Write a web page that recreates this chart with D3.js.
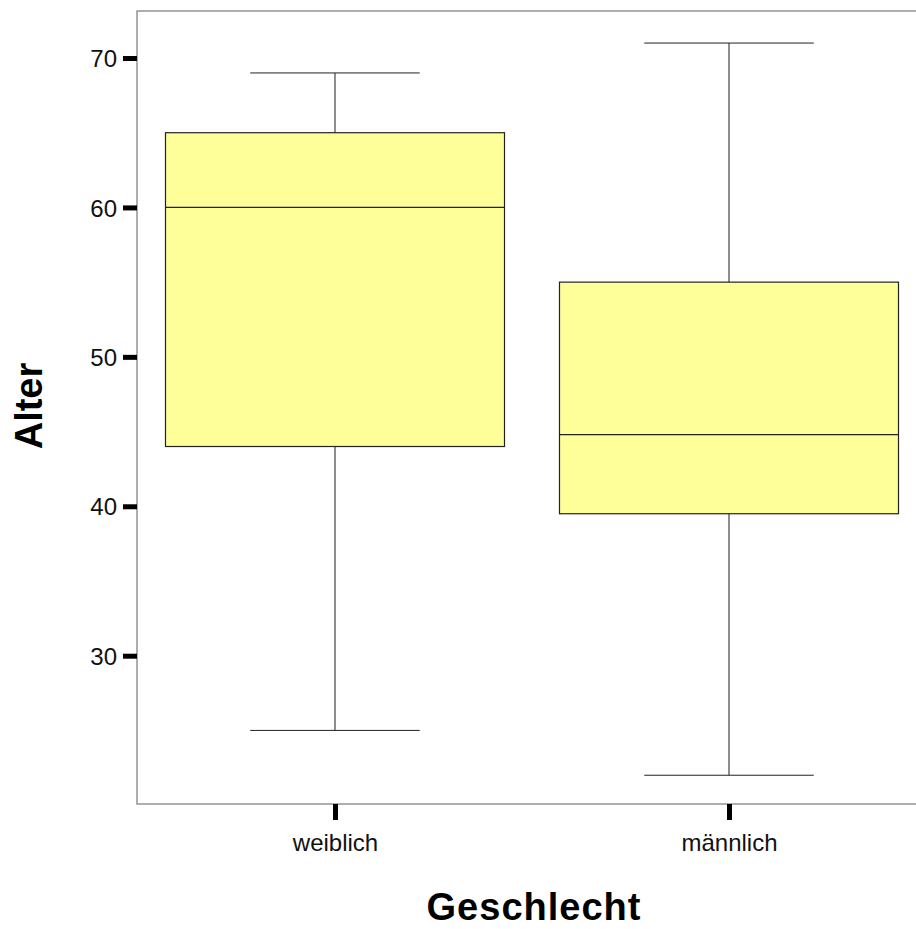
<!DOCTYPE html>
<html><head><meta charset="utf-8">
<script src="https://cdn.jsdelivr.net/npm/d3@7"></script>
<style>body{margin:0;background:#fff;}svg{display:block;}</style>
</head><body>
<script>
const categories = ["weiblich", "männlich"];
const whiskerLow = [25, 22];
const q1 = [44, 39.5];
const median = [60, 44.8];
const q3 = [65, 55];
const whiskerHigh = [69, 71];
const yTicks = [30, 40, 50, 60, 70];
const xTitle = "Geschlecht";
const yTitle = "Alter";

const W = 916, H = 929;
const svg = d3.select("body").append("svg").attr("width", W).attr("height", H);
const frame = {left: 137, top: 11, right: 918, bottom: 804};

const y = d3.scaleLinear().domain([30, 70]).range([655.7, 58]);
const x = d3.scalePoint().domain(categories).range([138, 926]).padding(0.5);
const boxW = 339;

// frame
svg.append("rect").attr("x", frame.left).attr("y", frame.top)
  .attr("width", frame.right - frame.left).attr("height", frame.bottom - frame.top)
  .attr("fill", "none").attr("stroke", "#8c8c8c").attr("stroke-width", 1.4);

const data = categories.map((c, i) => ({c, lo: whiskerLow[i], q1: q1[i], med: median[i], q3: q3[i], hi: whiskerHigh[i]}));
const g = svg.append("g").selectAll("g").data(data).join("g");
// whiskers
g.append("line").attr("x1", d => x(d.c)).attr("x2", d => x(d.c))
  .attr("y1", d => y(d.hi)).attr("y2", d => y(d.q3)).attr("stroke", "#444").attr("stroke-width", 1.2);
g.append("line").attr("x1", d => x(d.c)).attr("x2", d => x(d.c))
  .attr("y1", d => y(d.q1)).attr("y2", d => y(d.lo)).attr("stroke", "#444").attr("stroke-width", 1.2);
g.append("line").attr("x1", d => x(d.c) - boxW / 4).attr("x2", d => x(d.c) + boxW / 4)
  .attr("y1", d => y(d.hi)).attr("y2", d => y(d.hi)).attr("stroke", "#222").attr("stroke-width", 1);
g.append("line").attr("x1", d => x(d.c) - boxW / 4).attr("x2", d => x(d.c) + boxW / 4)
  .attr("y1", d => y(d.lo)).attr("y2", d => y(d.lo)).attr("stroke", "#222").attr("stroke-width", 1);
// boxes
g.append("rect").attr("x", d => x(d.c) - boxW / 2).attr("width", boxW)
  .attr("y", d => y(d.q3)).attr("height", d => y(d.q1) - y(d.q3))
  .attr("fill", "#ffff99").attr("stroke", "#222").attr("stroke-width", 1.2);
g.append("line").attr("x1", d => x(d.c) - boxW / 2).attr("x2", d => x(d.c) + boxW / 2)
  .attr("y1", d => y(d.med)).attr("y2", d => y(d.med)).attr("stroke", "#222").attr("stroke-width", 1.2);

// y axis
const yAxis = d3.axisLeft(y).tickValues(yTicks).tickSize(14).tickPadding(6).tickFormat(d3.format("d"));
const ya = svg.append("g").attr("transform", `translate(${frame.left},0)`).call(yAxis);
ya.select(".domain").remove();
ya.selectAll(".tick line").attr("stroke", "#000").attr("stroke-width", 5);
ya.selectAll(".tick text").attr("font-family", "Liberation Sans, Arial, sans-serif")
  .attr("font-size", 24).attr("fill", "#111").attr("dy", "0.36em");

// x axis
const xAxis = d3.axisBottom(x).tickSize(16).tickPadding(14);
const xa = svg.append("g").attr("transform", `translate(0,${frame.bottom})`).call(xAxis);
xa.select(".domain").remove();
xa.selectAll(".tick line").attr("stroke", "#000").attr("stroke-width", 5);
xa.selectAll(".tick text").attr("font-family", "Liberation Sans, Arial, sans-serif")
  .attr("font-size", 24).attr("fill", "#111");

// titles
svg.append("text").attr("x", 534).attr("y", 920).attr("text-anchor", "middle")
  .attr("font-family", "Liberation Sans, Arial, sans-serif").attr("font-weight", "bold")
  .attr("font-size", 38).attr("letter-spacing", 1).attr("fill", "#000").text(xTitle);
svg.append("text").attr("transform", "translate(42,406) rotate(-90)").attr("text-anchor", "middle")
  .attr("font-family", "Liberation Sans, Arial, sans-serif").attr("font-weight", "bold")
  .attr("font-size", 38).attr("fill", "#000").text(yTitle);
</script>
</body></html>
